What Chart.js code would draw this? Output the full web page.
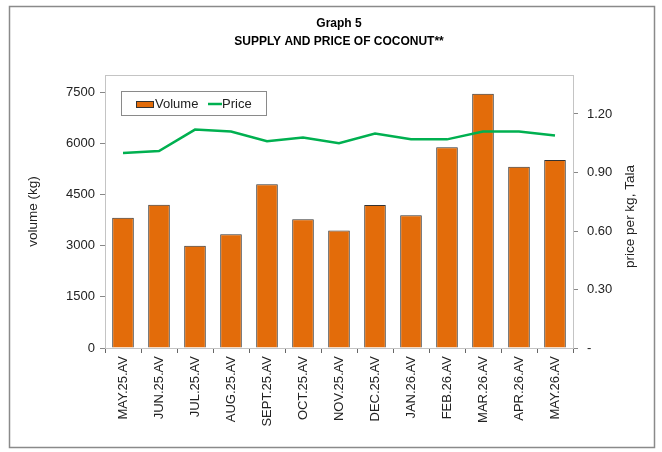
<!DOCTYPE html>
<html>
<head>
<meta charset="utf-8">
<script src="https://cdn.jsdelivr.net/npm/chart.js@4.4.1/dist/chart.umd.min.js"></script>
<style>
  html, body { margin: 0; padding: 0; background: #fff; }
  #wrap { width: 662px; height: 452px; position: relative; }
</style>
</head>
<body>
<div id="wrap"><canvas id="graficoCoco" width="662" height="452"></canvas></div>
<script>
// dados
const meses = ['MAY.25.AV', 'JUN.25.AV', 'JUL.25.AV', 'AUG.25.AV', 'SEPT.25.AV', 'OCT.25.AV', 'NOV.25.AV',
    'DEC.25.AV', 'JAN.26.AV', 'FEB.26.AV', 'MAR.26.AV', 'APR.26.AV', 'MAY.26.AV'];
const volume = [3820, 4200, 3000, 3330, 4800, 3770, 3440, 4190, 3890, 5880, 7450, 5310, 5510];
const preco = [1.00, 1.01, 1.12, 1.11, 1.06, 1.08, 1.05, 1.10, 1.07, 1.07, 1.11, 1.11, 1.09];
const ticksVolume = [0, 1500, 3000, 4500, 6000, 7500];
const ticksPreco = [0, 0.30, 0.60, 0.90, 1.20];

const fonte = "'Liberation Sans', Arial, sans-serif";
const laranja = 'rgb(227, 108, 10)';
const verde = 'rgb(0, 176, 80)';

// moldura externa + borda da area do grafico
const molduraPlugin = {
    id: 'moldura',
    beforeDraw(chart) {
        const ctx = chart.ctx;
        ctx.save();
        ctx.fillStyle = '#fff';
        ctx.fillRect(0, 0, chart.width, chart.height);
        ctx.strokeStyle = '#8a8a8a';
        ctx.lineWidth = 1.5;
        ctx.strokeRect(9.5, 6.5, 645, 441);
        ctx.restore();
    },
    beforeDatasetsDraw(chart) {
        const a = chart.chartArea;
        const ctx = chart.ctx;
        ctx.save();
        ctx.strokeStyle = '#c4c4c4';
        ctx.lineWidth = 1;
        ctx.strokeRect(a.left + 0.5, a.top + 0.5, a.right - a.left, a.bottom - a.top);
        ctx.restore();
    }
};

// legenda dentro da area e titulo do eixo direito
const legendaPlugin = {
    id: 'legendaInterna',
    afterDraw(chart) {
        const ctx = chart.ctx;
        const a = chart.chartArea;
        const dsBar = chart.data.datasets[0];
        const dsLinha = chart.data.datasets[1];
        const x = a.left + 16, y = a.top + 16;
        ctx.save();
        ctx.fillStyle = '#fff';
        ctx.fillRect(x, y, 145, 24);
        ctx.strokeStyle = '#8a8a8a';
        ctx.lineWidth = 1;
        ctx.strokeRect(x + 0.5, y + 0.5, 145, 24);

        ctx.fillStyle = dsBar.backgroundColor;
        ctx.fillRect(x + 15, y + 10, 17, 6);
        ctx.strokeStyle = '#333';
        ctx.strokeRect(x + 15.5, y + 10.5, 17, 6);

        ctx.font = '13px ' + fonte;
        ctx.textBaseline = 'middle';
        ctx.fillStyle = '#222';
        ctx.fillText(dsBar.label, x + 34, y + 13);

        ctx.strokeStyle = dsLinha.borderColor;
        ctx.lineWidth = 2.5;
        ctx.beginPath();
        ctx.moveTo(x + 87, y + 13);
        ctx.lineTo(x + 101, y + 13);
        ctx.stroke();
        ctx.fillStyle = '#222';
        ctx.fillText(dsLinha.label, x + 101, y + 13);

        // titulo do eixo da direita, lendo de baixo para cima
        const yR = chart.scales.yPreco;
        ctx.translate(630, (yR.top + yR.bottom) / 2 + 5);
        ctx.rotate(-Math.PI / 2);
        ctx.textAlign = 'center';
        ctx.font = '13.5px ' + fonte;
        ctx.fillText('price per kg, Tala', 0, 0);
        ctx.restore();
    }
};

const dadosGrafico = {
    labels: meses,
    datasets: [{
        type: 'bar',
        label: 'Volume',
        data: volume,
        backgroundColor: laranja,
        borderColor: '#333',
        borderWidth: 1,
        barPercentage: 0.6,
        categoryPercentage: 1,
        yAxisID: 'yVolume',
        order: 2
    },
    {
        type: 'line',
        label: 'Price',
        data: preco,
        borderColor: verde,
        backgroundColor: verde,
        borderWidth: 2.5,
        pointRadius: 0,
        tension: 0,
        fill: false,
        yAxisID: 'yPreco',
        order: 1
    }]
};

const config = {
    data: dadosGrafico,
    plugins: [molduraPlugin, legendaPlugin],
    options: {
        responsive: false,
        animation: false,
        layout: { padding: { left: 16, right: 0, top: 0, bottom: 0 } },
        plugins: {
            legend: { display: false },
            tooltip: { enabled: false },
            title: {
                display: true,
                text: ['Graph 5', 'SUPPLY AND PRICE OF COCONUT**'],
                color: '#000',
                font: { family: fonte, size: 12, weight: 'bold', lineHeight: 1.5 },
                padding: { top: 15, bottom: 24 }
            }
        },
        scales: {
            x: {
                offset: true,
                grid: { display: true, drawOnChartArea: false, offset: true, tickLength: 5, color: '#666' },
                border: { display: true, color: '#555' },
                ticks: {
                    autoSkip: false, minRotation: 90, maxRotation: 90, padding: 3,
                    color: '#222', font: { family: fonte, size: 13 }
                },
                afterFit(scale) { scale.height = 104; }
            },
            yVolume: {
                position: 'left',
                min: 0,
                max: 8000,
                afterBuildTicks(scale) { scale.ticks = ticksVolume.map(v => ({ value: v })); },
                grid: { display: true, drawOnChartArea: false, tickLength: 5, color: '#888' },
                border: { display: true, color: '#9a9a9a' },
                ticks: {
                    padding: 5, color: '#222', font: { family: fonte, size: 13 },
                    callback: (v) => String(v)
                },
                title: {
                    display: true, text: 'volume (kg)', color: '#222',
                    font: { family: fonte, size: 13.5 }, padding: { top: 9, bottom: 0 }
                },
                afterFit(scale) { scale.width = 89; }
            },
            yPreco: {
                position: 'right',
                min: 0,
                max: 1.4,
                afterBuildTicks(scale) { scale.ticks = ticksPreco.map(v => ({ value: v })); },
                grid: { display: true, drawOnChartArea: false, tickLength: 5, color: '#888' },
                border: { display: true, color: '#9a9a9a' },
                ticks: {
                    padding: 9, color: '#222', font: { family: fonte, size: 13 },
                    callback: (v) => v === 0 ? '-' : v.toFixed(2)
                },
                afterFit(scale) { scale.width = 89; }
            }
        }
    }
};

let graficoCoco = new Chart(document.getElementById('graficoCoco'), config);
</script>
</body>
</html>
